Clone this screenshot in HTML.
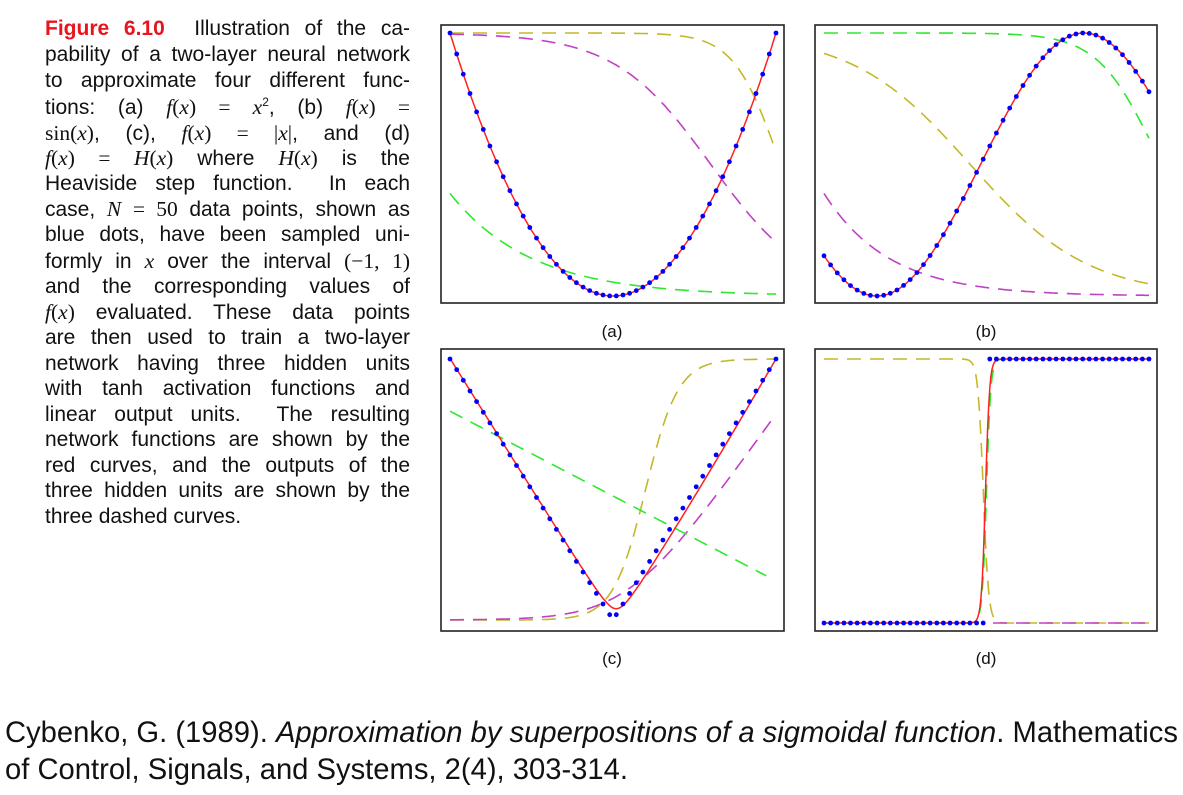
<!DOCTYPE html>
<html><head><meta charset="utf-8"><style>
body{margin:0;width:1183px;height:795px;background:#fff;position:relative;overflow:hidden;font-family:"Liberation Sans",sans-serif;color:#111}
.cl{position:absolute;left:45px;width:365px;font-size:21px;line-height:22px;text-align:justify;text-align-last:justify;white-space:nowrap}
.m{font-family:"Liberation Serif",serif;font-style:italic;font-size:21.5px}
.r{font-family:"Liberation Serif",serif;font-size:21.5px}
sup{font-size:12px;line-height:0;vertical-align:0;position:relative;top:-8px}
.lab{position:absolute;font-size:17px;transform:translateX(-50%)}
.bt{position:absolute;left:5px;font-size:29.2px;white-space:nowrap}
</style></head><body>
<div class="cl" style="top:18px"><b style="color:#e8141e">Figure 6.10</b>&nbsp; Illustration of the ca-</div>
<div class="cl" style="top:44px">pability of a two-layer neural network</div>
<div class="cl" style="top:70px">to approximate four different func-</div>
<div class="cl" style="top:96px">tions: (a) <span class="m">f</span><span class="r">(</span><span class="m">x</span><span class="r">) = </span><span class="m">x</span><sup>2</sup>, (b) <span class="m">f</span><span class="r">(</span><span class="m">x</span><span class="r">) =</span></div>
<div class="cl" style="top:122px"><span class="r">sin(</span><span class="m">x</span><span class="r">)</span>, (c), <span class="m">f</span><span class="r">(</span><span class="m">x</span><span class="r">) = |</span><span class="m">x</span><span class="r">|</span>, and (d)</div>
<div class="cl" style="top:147px"><span class="m">f</span><span class="r">(</span><span class="m">x</span><span class="r">) = </span><span class="m">H</span><span class="r">(</span><span class="m">x</span><span class="r">)</span> where <span class="m">H</span><span class="r">(</span><span class="m">x</span><span class="r">)</span> is the</div>
<div class="cl" style="top:173px">Heaviside step function. &nbsp;In each</div>
<div class="cl" style="top:198px">case, <span class="m">N</span> <span class="r">= 50</span> data points, shown as</div>
<div class="cl" style="top:224px">blue dots, have been sampled uni-</div>
<div class="cl" style="top:250px">formly in <span class="m">x</span> over the interval <span class="r">(−1, 1)</span></div>
<div class="cl" style="top:276px">and the corresponding values of</div>
<div class="cl" style="top:301px"><span class="m">f</span><span class="r">(</span><span class="m">x</span><span class="r">)</span> evaluated. These data points</div>
<div class="cl" style="top:327px">are then used to train a two-layer</div>
<div class="cl" style="top:353px">network having three hidden units</div>
<div class="cl" style="top:378px">with tanh activation functions and</div>
<div class="cl" style="top:404px">linear output units. &nbsp;The resulting</div>
<div class="cl" style="top:429px">network functions are shown by the</div>
<div class="cl" style="top:455px">red curves, and the outputs of the</div>
<div class="cl" style="top:480px">three hidden units are shown by the</div>
<div class="cl" style="top:506px;text-align-last:left">three dashed curves.</div>

<svg id="s" width="1183" height="795" style="position:absolute;left:0;top:0"></svg>

<div class="lab" style="left:612px;top:322px">(a)</div>
<div class="lab" style="left:986px;top:322px">(b)</div>
<div class="lab" style="left:612px;top:649px">(c)</div>
<div class="lab" style="left:986px;top:649px">(d)</div>

<div class="bt" style="top:717px">Cybenko, G. (1989). <i>Approximation by superpositions of a sigmoidal function</i>. Mathematics</div>
<div class="bt" style="top:754px">of Control, Signals, and Systems, 2(4), 303-314.</div>

<script>
const S=document.getElementById('s');let h='';
const sg=z=>1/(1+Math.exp(-z));
const sp=z=>Math.log(1+Math.exp(z));
const Y='#c4b82a',M='#c040c8',G='#2ee82e',R='#ff2020';
function panel(bx,by,bw,bh,x0,x1,y0,y1,dashed,red,dots){
 h+=`<rect x="${bx}" y="${by}" width="${bw}" height="${bh}" fill="none" stroke="#222" stroke-width="1.6"/>`;
 const P=(u,v)=>[(x0+u*(x1-x0)).toFixed(1),(y1-v*(y1-y0)).toFixed(1)];
 const path=(f,a=0,b=1)=>{let d='';for(let i=0;i<=300;i++){const u=a+(b-a)*i/300;const p=P(u,f(u));d+=(i?'L':'M')+p[0]+' '+p[1];}return d;};
 for(const [f,c,a,b] of dashed) h+=`<path d="${path(f,a??0,b??1)}" fill="none" stroke="${c}" stroke-width="1.6" stroke-dasharray="14 9"/>`;
 h+=`<path d="${path(red)}" fill="none" stroke="${R}" stroke-width="1.5"/>`;
 for(let i=0;i<50;i++){const u=i/49;const p=P(u,dots(u));h+=`<circle cx="${p[0]}" cy="${p[1]}" r="2.4" fill="#0000ff"/>`;}
}
// (a)
panel(441,25,343,278,450,776,33,296,[
 [u=>1-0.9*sg((u-1)*15),Y],
 [u=>1-sg((u-0.8)*6.8),M],
 [u=>0.39*Math.exp(-u*4),G]],
 u=>(2*u-1)**2,u=>(2*u-1)**2);
// (b)
const sb=u=>0.5+0.5*Math.sin(-2.374+u*4.93);
panel(815,25,342,278,824,1149,33,296,[
 [u=>1-0.8*sg((u-1)*12),G],
 [u=>1-sg((u-0.45)*5.5),Y],
 [u=>0.39*Math.exp(-u*5),M]],
 sb,sb);
// (c)
panel(441,349,343,282,450,776,359,620,[
 [u=>sg((u-0.6)*20),Y],
 [u=>0.175*sp((u-0.55)*10),M],
 [u=>0.8-0.65*u,G,0,0.97]],
 u=>{const d=2*u-1.02;return (Math.sqrt(d*d+0.004)-0.02)*(d>0?1+0.04*d/0.98:1);},u=>Math.abs(2*u-1));
// (d)
panel(815,349,342,282,824,1149,359,623,[
 [u=>1-sg((u-0.49)*120),Y],
 [u=>sg((u-0.5)*150),G,0,0.56],
 [u=>0,M,0.52,1]],
 u=>sg((u-0.497)*160),u=>u>0.5?1:0);
S.innerHTML=h;
</script>
</body></html>
